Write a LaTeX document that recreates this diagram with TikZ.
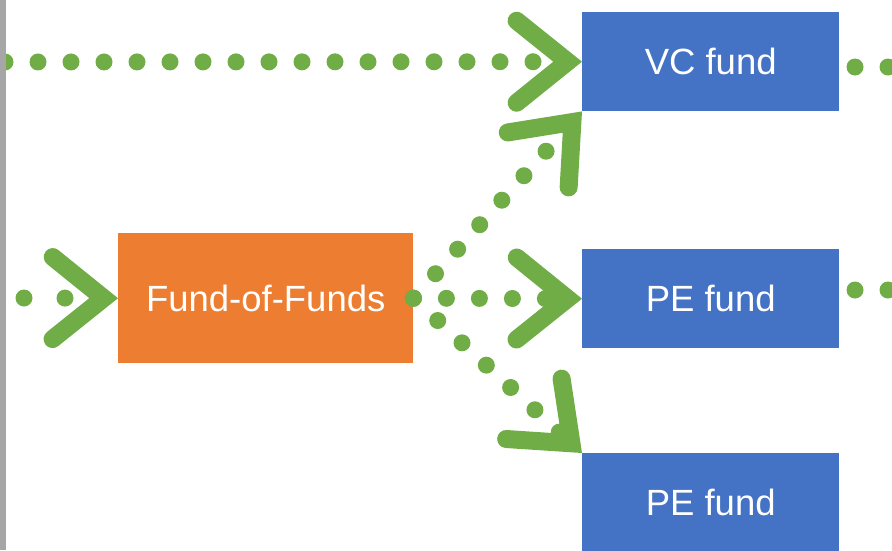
\documentclass[tikz,border=0pt]{standalone}
\usepackage{fontspec}
\setmainfont{Liberation Sans}
\usetikzlibrary{arrows.meta}
\definecolor{grn}{HTML}{70AD47}
\definecolor{fundblue}{HTML}{4472C4}
\definecolor{fofor}{HTML}{ED7D31}
\definecolor{barg}{HTML}{A6A6A6}
\begin{document}
\begin{tikzpicture}[x=1pt,y=-1pt,
  fundbox/.style={fill=fundblue, inner sep=0pt, minimum width=257pt, minimum height=99pt,
    text=white, font=\fontsize{36.5}{40}\selectfont, anchor=north west},
  fofbox/.style={fill=fofor, inner sep=0pt, minimum width=295pt, minimum height=130pt,
    text=white, font=\fontsize{36.5}{40}\selectfont, anchor=north west},
  dots/.style={draw=grn, line width=17pt, line cap=round, dash pattern=on 0pt off 33pt},
  flow/.style={dots, -{Straight Barb[length=51pt, width=82pt, line width=18pt, line cap=round, line join=miter]}}
]
\useasboundingbox (0,0) rectangle (892,550);
\clip (0,0) rectangle (892,550);
\node[fundbox] (vc) at (582,12) {VC fund};
\node[fundbox] (pe1) at (582,249) {PE fund};
\node[fundbox] (pe2) at (582,453) {PE fund};
\node[fofbox] (fof) at (118,233) {Fund-of-Funds};
\coordinate (topstart) at (5,62);
\coordinate (leftstart) at (24,298);
\coordinate (r1) at (855,67);
\coordinate (r1e) at (940,67);
\coordinate (r2) at (855,290);
\coordinate (r2e) at (940,290);
\draw[flow] (topstart) -- (vc.west);
\draw[flow, dash pattern=on 0pt off 41pt] (leftstart) -- (fof.west);
\draw[flow] (fof.east) -- (vc.south west);
\draw[flow] (fof.east) -- (pe1.west);
\draw[flow] (fof.east) -- (pe2.north west);
\draw[dots] (r1) -- (r1e);
\draw[dots] (r2) -- (r2e);
\fill[barg] (0,0) rectangle (6,550);
\end{tikzpicture}
\end{document}
